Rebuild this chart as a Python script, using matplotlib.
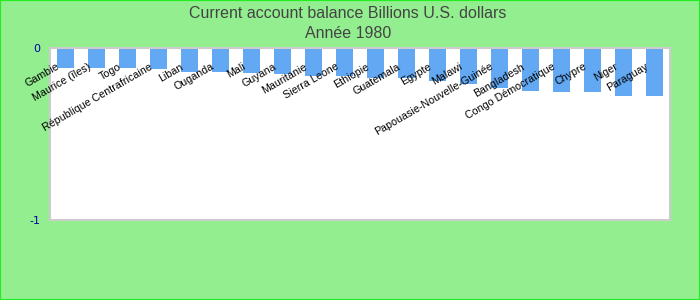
import matplotlib
matplotlib.use("Agg")
import matplotlib.pyplot as plt
from matplotlib.patches import Rectangle

categories = ["Gambie", "Maurice (îles)", "Togo", "République Centrafricaine", "Liban",
              "Ouganda", "Mali", "Guyana", "Mauritanie", "Sierra Leone", "Ethiopie",
              "Guatemala", "Egypte", "Malawi", "Papouasie-Nouvelle-Guinée", "Bangladesh",
              "Congo Démocratique", "Chypre", "Niger", "Paraguay"]
values = [-0.116, -0.116, -0.116, -0.125, -0.140, -0.141, -0.148, -0.154, -0.160, -0.164,
          -0.173, -0.173, -0.193, -0.208, -0.232, -0.251, -0.257, -0.257, -0.281, -0.281]
ytick_values = [0, -1]
ytick_labels = ["0", "-1"]
title_lines = ["Current account balance Billions U.S. dollars", "Année 1980"]

fig = plt.figure(figsize=(7, 3), dpi=100)
fig.patch.set_facecolor("#93ee90")
fig.add_artist(Rectangle((0, 0), 1, 1, transform=fig.transFigure, fill=False,
                         edgecolor="#22ee22", linewidth=1.6))

ax = fig.add_axes([50 / 700, 80 / 300, 620 / 700, 172 / 300])
ax.set_facecolor("white")
x = list(range(len(categories)))
ax.bar(x, values, width=0.55, color="#62a8f2", zorder=2)
ax.set_xlim(-0.5, len(categories) - 0.5)
ax.set_ylim(-1, 0)
ax.set_xticks([])
ax.set_yticks(ytick_values)
ax.set_yticklabels(ytick_labels, fontfamily="DejaVu Sans", fontsize=8, color="#0000a0")
ax.tick_params(axis="y", length=0, pad=7)
for s in ax.spines.values():
    s.set_color("#cccccc")
    s.set_linewidth(1.5)

for i, name in enumerate(categories):
    ax.text(i - 0.3, -0.078, name, rotation=30, rotation_mode="anchor",
            ha="right", va="top", fontsize=7.7, fontfamily="Liberation Sans",
            color="black", zorder=3)

fig.text(0.497, 1 - 13 / 300, title_lines[0], ha="center", va="center",
         fontsize=11.5, fontfamily="Liberation Sans", color="#444444")
fig.text(0.497, 1 - 33 / 300, title_lines[1], ha="center", va="center",
         fontsize=11.5, fontfamily="Liberation Sans", color="#444444")

fig.savefig("out.png", dpi=100, facecolor=fig.get_facecolor())
